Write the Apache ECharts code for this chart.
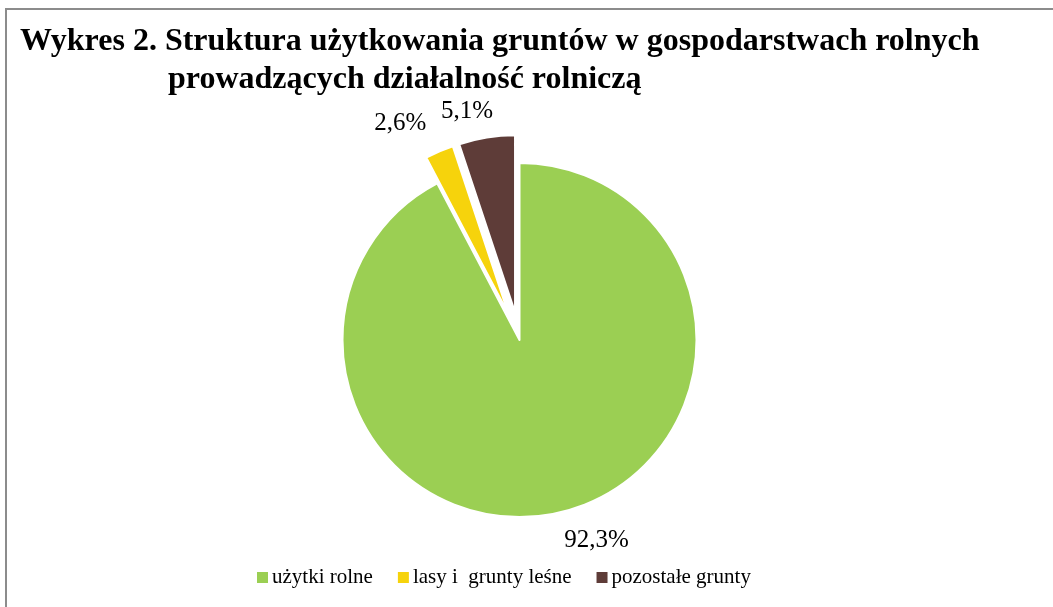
<!DOCTYPE html>
<html>
    <head>
        <meta charset="utf-8">
        <title>struktura_gruntow</title>
        <script src="https://cdnjs.cloudflare.com/ajax/libs/echarts/6.0.0/echarts.min.js"></script>
        <style>
            html, body { margin: 0; padding: 0; background: #fff; }
        </style>
    </head>
    <body>
        <div id="main" style="width: 1053px; height: 607px;"></div>
        <script>
            var title_line1 = 'Wykres 2. Struktura użytkowania gruntów w gospodarstwach rolnych';
            var title_line2 = 'prowadzących działalność rolniczą';
            var categories = ['użytki rolne', 'lasy i  grunty leśne', 'pozostałe grunty'];
            var values = [92.3, 2.6, 5.1];
            var colors = ['#9bcf53', '#f6d30c', '#5e3c38'];
            var exploded = [false, true, true];

            // label nudges (dx, dy) per slice
            var label_shift = [[-5, 19], [-4, -19], [13, -16]];

            var serif = '"Liberation Serif", "Times New Roman", serif';

            var pie_data = categories.map(function (name, i) {
                return {
                    name: name,
                    value: values[i],
                    selected: exploded[i],
                    itemStyle: { color: colors[i] }
                };
            });

            var myChart = echarts.init(document.getElementById('main'));
            var option = {
                animation: false,
                title: [
                    {
                        text: title_line1,
                        left: 20,
                        top: 26,
                        padding: 0,
                        textStyle: { fontFamily: serif, fontWeight: 'bold', fontSize: 32, color: '#000' }
                    },
                    {
                        text: title_line2,
                        left: 168,
                        top: 64,
                        padding: 0,
                        textStyle: { fontFamily: serif, fontWeight: 'bold', fontSize: 32, color: '#000' }
                    }
                ],
                legend: {
                    left: 250,
                    top: 562,
                    icon: 'rect',
                    itemWidth: 13,
                    itemHeight: 13,
                    itemGap: 23,
                    selectedMode: false,
                    textStyle: { fontFamily: serif, fontSize: 21, color: '#000', padding: [0, 0, 0, -2] },
                    data: categories
                },
                graphic: [
                    {
                        type: 'rect',
                        shape: { x: 6, y: 9, width: 1100, height: 700 },
                        style: { fill: 'none', stroke: '#8c8c8c', lineWidth: 2 },
                        silent: true
                    }
                ],
                series: [
                    {
                        type: 'pie',
                        center: [519.5, 340],
                        radius: 177,
                        startAngle: 90,
                        clockwise: true,
                        selectedMode: 'multiple',
                        selectedOffset: 28,
                        avoidLabelOverlap: false,
                        itemStyle: { borderColor: '#fff', borderWidth: 2 },
                        label: {
                            show: true,
                            position: 'outside',
                            fontFamily: serif,
                            fontSize: 25,
                            color: '#000',
                            formatter: function (p) {
                                return p.value.toFixed(1).replace('.', ',') + '%';
                            }
                        },
                        labelLine: { show: false, length: 10, length2: 0 },
                        labelLayout: function (params) {
                            var s = label_shift[params.dataIndex];
                            return { dx: s[0], dy: s[1] };
                        },
                        emphasis: { disabled: true },
                        data: pie_data
                    }
                ]
            };
            myChart.setOption(option);
        </script>
    </body>
</html>
